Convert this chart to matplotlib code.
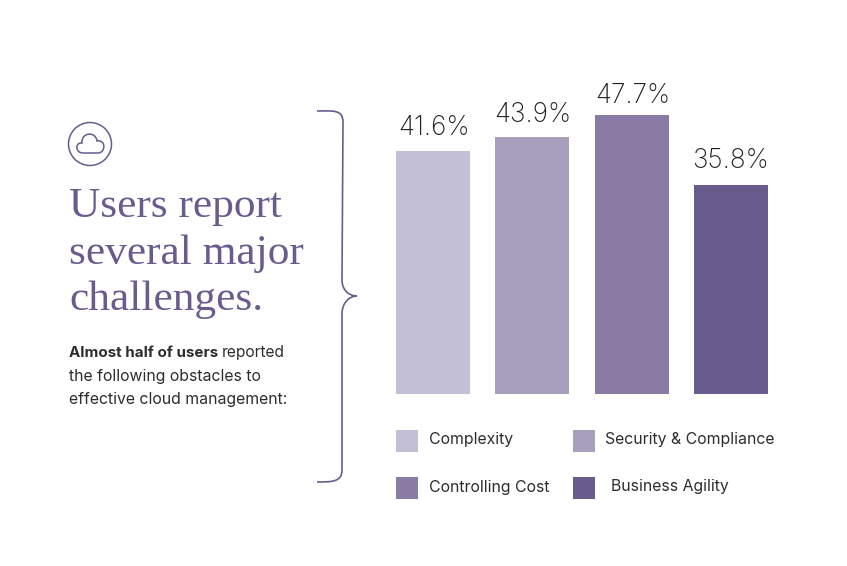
import matplotlib
matplotlib.use('Agg')
import matplotlib.pyplot as plt
import numpy as np
from matplotlib.path import Path
from matplotlib.patches import PathPatch, Circle, Rectangle

categories = ['Complexity', 'Security & Compliance', 'Controlling Cost', 'Business Agility']
values = [41.6, 43.9, 47.7, 35.8]
colors = ['#c3bfd4', '#a79fbc', '#897ba3', '#6a5b8e']
title_lines = ['Users report', 'several major', 'challenges.']
body_lines = ['the following obstacles to', 'effective cloud management:']

PURPLE = '#6a5b8e'
DARK = '#2d2d2d'
W, H = 847, 566

fig = plt.figure(figsize=(W / 100, H / 100), dpi=100)

# overlay in pixel coords for the decoration and text
bg = fig.add_axes([0, 0, 1, 1])
bg.set_xlim(0, W)
bg.set_ylim(H, 0)
bg.axis('off')

# bars
ax = fig.add_axes([383.6 / W, (H - 394) / H, 396.8 / W, 292.3 / H])
x = np.arange(len(values))
ax.bar(x, values, width=0.746, color=colors)
ax.set_xlim(-0.5, 3.5)
ax.set_ylim(0, 50)
ax.axis('off')
# the labels don't sit at a constant offset from the bars in the original
label_offsets = [(0.5, 11.5), (0, 10.8), (1, 8.6), (0, 12.2)]
for xi, v, off in zip(x, values, label_offsets):
    ax.annotate(f'{v}%', (xi, v), xytext=off, textcoords='offset points',
                ha='center', va='baseline', fontsize=18.8, family='Inter',
                fontweight='light', color='#1f1f1f', annotation_clip=False)

# cloud icon
bg.add_patch(Circle((90, 144), 21.5, fill=False, ec=PURPLE, lw=1.1))
cloud = Path([(83, 153), (75, 153), (75, 142), (82, 143),
              (81, 132), (96, 131), (97, 141),
              (106, 139), (106, 153), (98, 153), (83, 153)],
             [Path.MOVETO, Path.CURVE4, Path.CURVE4, Path.CURVE4,
              Path.CURVE4, Path.CURVE4, Path.CURVE4,
              Path.CURVE4, Path.CURVE4, Path.CURVE4, Path.LINETO])
bg.add_patch(PathPatch(cloud, fill=False, ec=PURPLE, lw=1.1))

# brace
brace = Path([(317, 111), (332, 111), (343, 109), (343, 122),
              (342, 280), (342, 290), (349, 296), (357, 296),
              (349, 296), (342, 303), (342, 314),
              (342, 470), (342, 482), (332, 482), (317, 482)],
             [Path.MOVETO, Path.CURVE4, Path.CURVE4, Path.CURVE4,
              Path.LINETO, Path.CURVE4, Path.CURVE4, Path.CURVE4,
              Path.CURVE4, Path.CURVE4, Path.CURVE4,
              Path.LINETO, Path.CURVE4, Path.CURVE4, Path.CURVE4])
bg.add_patch(PathPatch(brace, fill=False, ec=PURPLE, lw=1.2))

# heading
for line, y in zip(title_lines, [217, 264, 310]):
    bg.text(69, y, line, family='Liberation Serif', fontsize=31.2, color=PURPLE,
            ha='left', va='baseline')

# body copy
bg.text(69, 357, 'Almost half of users', family='Inter', fontsize=10.9,
        fontweight='bold', color=DARK, va='baseline')
bg.text(222, 357, 'reported', family='Inter', fontsize=11.2, color=DARK, va='baseline')
for line, y in zip(body_lines, [381, 404]):
    bg.text(69, y, line, family='Inter', fontsize=11.4, color=DARK, va='baseline')

# legend
legend_pos = [(396, 430, 429, 444), (573, 430, 605, 444),
              (396, 477, 429, 492), (573, 477, 611, 491)]
for cat, col, (sx, sy, tx, ty) in zip(categories, colors, legend_pos):
    bg.add_patch(Rectangle((sx, sy), 22, 22, color=col, lw=0))
    bg.text(tx, ty, cat, family='Inter', fontsize=11.4, color=DARK, va='baseline')

fig.savefig('out.png', dpi=100)
